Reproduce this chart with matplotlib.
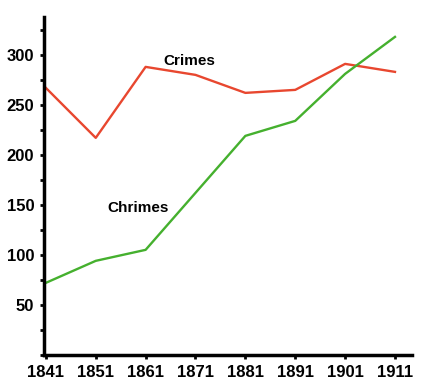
import numpy as np
import matplotlib
matplotlib.use('Agg')
import matplotlib.pyplot as plt
from matplotlib.ticker import MultipleLocator

years = [1841, 1851, 1861, 1871, 1881, 1891, 1901, 1911]
crimes = [267, 217, 288, 280, 262, 265, 291, 283]
chrimes = [72, 94, 105, 162, 219, 234, 281, 318]

plt.rcParams['font.family'] = ['Liberation Sans', 'DejaVu Sans']
plt.rcParams['font.weight'] = 'bold'

fig = plt.figure(figsize=(4.26, 3.84), dpi=100)
ax = fig.add_axes([0.103, 0.076, 0.864, 0.880])

ax.plot(years, crimes, color='#e8472f', lw=1.7)
ax.plot(years, chrimes, color='#45b02e', lw=1.7)

ax.text(1869.8, 294, 'Crimes', ha='center', va='center', fontsize=11, fontweight='bold')
ax.text(1859.4, 147, 'Chrimes', ha='center', va='center', fontsize=11, fontweight='bold')

ax.set_xlim(1840.6, 1914.4)
ax.set_ylim(0, 338)
ax.set_xticks(years)
ax.yaxis.set_major_locator(MultipleLocator(50))
ax.yaxis.set_minor_locator(MultipleLocator(25))
ax.set_yticks([50, 100, 150, 200, 250, 300])

for s in ['top', 'right']:
    ax.spines[s].set_visible(False)
for s in ['left', 'bottom']:
    ax.spines[s].set_linewidth(2.5)

ax.tick_params(axis='both', which='both', direction='out', length=3, width=2, labelsize=12)
ax.tick_params(axis='y', pad=4)
ax.tick_params(axis='x', pad=4)

fig.savefig('out.png', dpi=100)
